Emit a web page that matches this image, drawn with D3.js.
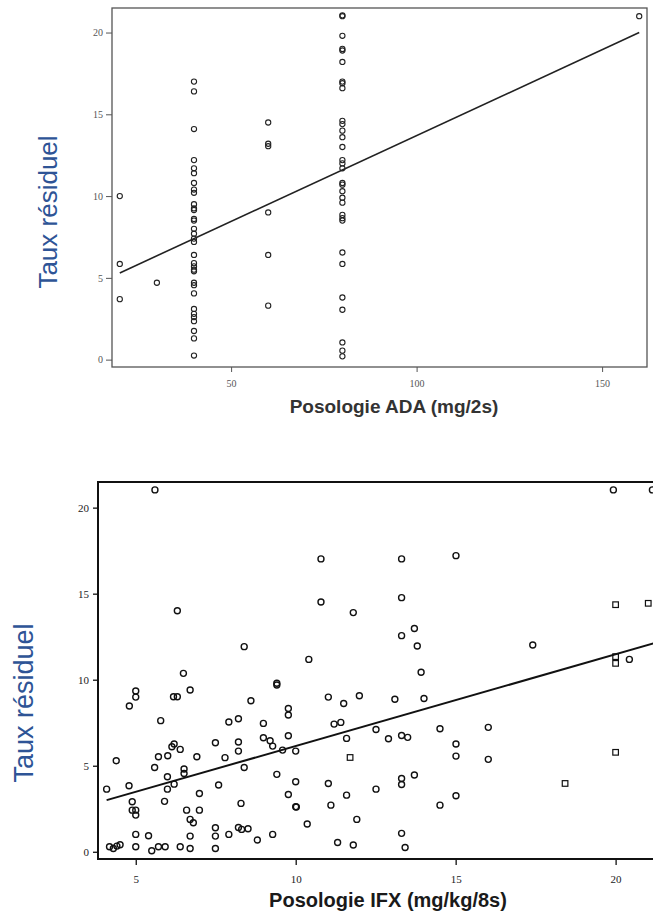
<!DOCTYPE html>
<html>
<head>
<meta charset="utf-8">
<script src="https://cdn.jsdelivr.net/npm/d3@7"></script>
<style>
  body { margin: 0; background: #fff; }
  .tick text { font-family: "Liberation Serif", "DejaVu Serif", serif; }
</style>
</head>
<body>
<svg id="chart" width="653" height="912"></svg>
<script>
// ---- data: ADA (top panel) ----
const adaDoses = [20, 30, 40, 60, 80, 160];
const adaRates = [
  [10.0, 5.85, 3.7],
  [4.7],
  [17.0, 16.4, 14.1, 12.2, 11.7, 11.4, 10.8, 10.4, 10.2, 9.5, 9.25, 9.15, 8.6, 8.5, 8.0, 7.7, 7.4, 7.2,
   6.4, 5.9, 5.7, 5.5, 5.4, 4.7, 4.55, 4.05, 3.1, 2.8, 2.6, 2.35, 1.75, 1.3, 0.25],
  [14.5, 13.2, 13.05, 9.0, 6.4, 3.3],
  [21.05, 21.0, 19.8, 19.0, 18.9, 18.2, 17.0, 16.9, 16.6, 14.6, 14.4, 14.0, 13.6, 13.0, 12.2, 12.0, 11.7,
   10.8, 10.7, 10.3, 9.9, 9.6, 8.85, 8.65, 8.5, 6.55, 5.85, 3.8, 3.05, 1.05, 0.55, 0.2],
  [21.0]
];
const adaFitX = [20, 160];
const adaFitY = [5.3, 20.0];
const adaXTicks = [50, 100, 150];
const adaYTicks = [0, 5, 10, 15, 20];

// ---- data: IFX (bottom panel) ----
const ifxCircles = [
  [5.60,21.03],[6.30,14.01],[8.39,11.92],[9.41,9.79],[9.41,9.69],[6.49,10.37],[6.70,9.40],[5.0,9.34],[5.0,8.99],
  [4.80,8.47],[6.18,9.01],[6.30,9.01],[8.60,8.78],[5.78,7.62],[7.91,7.54],[8.21,7.73],[8.99,7.46],[9.77,8.33],
  [9.77,7.95],[9.77,6.74],[6.13,6.10],[6.20,6.26],[6.39,5.95],[7.49,6.34],[8.21,6.38],[8.21,5.85],[8.99,6.63],
  [9.20,6.45],[9.28,6.14],[9.59,5.91],[5.71,5.52],[6.0,5.58],[6.91,5.52],[7.79,5.47],[4.39,5.29],[5.59,4.90],
  [6.51,4.81],[6.51,4.55],[8.39,4.90],[9.41,4.50],[5.99,4.36],[5.99,3.64],[6.20,3.93],[4.79,3.84],[4.09,3.64],
  [7.59,3.88],[6.99,3.39],[9.77,3.33],[4.89,2.91],[5.90,2.93],[4.89,2.42],[5.0,2.42],[5.0,2.13],[6.59,2.42],
  [6.99,2.42],[6.70,1.88],[6.80,1.69],[8.29,2.81],[5.0,1.01],[5.40,0.93],[6.70,0.91],[7.49,1.40],[7.49,0.91],
  [7.91,1.01],[8.21,1.41],[8.31,1.30],[8.51,1.34],[8.80,0.68],[9.28,1.01],[4.18,0.29],[4.30,0.19],[4.41,0.33],
  [4.51,0.41],[5.0,0.29],[5.50,0.06],[5.71,0.29],[5.92,0.29],[6.39,0.29],[6.70,0.19],[7.49,0.19],
  [10.79,17.02],[10.79,14.52],[11.80,13.90],[13.31,17.02],[13.31,14.77],[13.31,12.56],[13.71,12.98],[13.80,11.96],
  [15.01,17.21],[10.41,11.18],[13.92,10.43],[10.0,5.85],[11.02,8.99],[11.50,8.62],[11.99,9.07],[13.10,8.86],
  [14.01,8.91],[11.20,7.42],[11.41,7.52],[11.59,6.59],[12.51,7.11],[12.90,6.57],[13.31,6.76],[13.50,6.65],
  [14.51,7.15],[15.01,6.26],[15.01,5.56],[10.0,4.07],[10.0,2.62],[10.02,2.60],[11.02,3.97],[11.10,2.71],
  [11.59,3.29],[12.51,3.64],[13.31,4.26],[13.31,3.91],[13.71,4.46],[14.51,2.71],[15.01,3.26],[10.36,1.61],
  [11.91,1.88],[11.31,0.54],[11.80,0.39],[13.31,1.07],[13.42,0.25],
  [19.93,21.03],[21.15,21.03],[17.41,12.02],[20.43,11.18],[16.02,7.23],[16.02,5.37]
];
const ifxSquares = [[20.0,14.36],[21.02,14.44],[20.0,11.34],[20.0,10.95],[20.0,5.78],[18.42,3.97],[11.70,5.48]];
const ifxFitX = [4.09, 21.3];
const ifxFitY = [3.0, 12.17];
const ifxXTicks = [5, 10, 15, 20];
const ifxYTicks = [0, 5, 10, 15, 20];

(function() {
const svg = d3.select('#chart');
const blue = '#2e5496';

// ================= top panel =================
const x1 = d3.scaleLinear().domain([17.9, 162.1]).range([112, 647]);
const y1 = d3.scaleLinear().domain([-0.45, 21.5]).range([367, 8]);

const panel1 = svg.append('g');
panel1.append('rect')
  .attr('x', x1.range()[0]).attr('y', y1.range()[1])
  .attr('width', x1.range()[1] - x1.range()[0])
  .attr('height', y1.range()[0] - y1.range()[1])
  .attr('fill', 'none').attr('stroke', '#555').attr('stroke-width', 1.3);

const ax1 = panel1.append('g')
  .attr('transform', `translate(0,${y1.range()[0]})`)
  .call(d3.axisBottom(x1).tickValues(adaXTicks).tickSize(5).tickPadding(8));
const ay1 = panel1.append('g')
  .attr('transform', `translate(${x1.range()[0]},0)`)
  .call(d3.axisLeft(y1).tickValues(adaYTicks).tickSize(6).tickPadding(3));
[ax1, ay1].forEach(a => {
  a.select('.domain').remove();
  a.selectAll('line').attr('stroke', '#555');
  a.selectAll('text').attr('fill', '#555').attr('font-size', 10);
});

// points
const adaPts = [];
adaDoses.forEach((d, i) => adaRates[i].forEach(r => adaPts.push([d, r])));
panel1.selectAll('circle.ada')
  .data(adaPts).enter().append('circle')
  .attr('class', 'ada')
  .attr('cx', d => x1(d[0])).attr('cy', d => y1(d[1]))
  .attr('r', 2.6)
  .attr('fill', 'none').attr('stroke', '#222').attr('stroke-width', 1.1);

panel1.append('path')
  .datum(adaFitX.map((v, i) => [v, adaFitY[i]]))
  .attr('d', d3.line().x(d => x1(d[0])).y(d => y1(d[1])))
  .attr('fill', 'none').attr('stroke', '#222').attr('stroke-width', 1.6);

panel1.append('text')
  .attr('x', 394).attr('y', 413)
  .attr('text-anchor', 'middle')
  .attr('font-family', 'Liberation Sans, Arial, sans-serif')
  .attr('font-weight', 'bold').attr('font-size', 19)
  .attr('fill', '#333')
  .text('Posologie ADA (mg/2s)');

panel1.append('text')
  .attr('transform', 'translate(57,212) rotate(-90)')
  .attr('text-anchor', 'middle')
  .attr('font-family', 'Liberation Sans, Arial, sans-serif')
  .attr('font-size', 26)
  .attr('fill', blue)
  .text('Taux résiduel');

// ================= bottom panel =================
const x2 = d3.scaleLinear().domain([3.82, 21.2]).range([98, 654]);
const y2 = d3.scaleLinear().domain([-0.42, 21.49]).range([859, 482]);

const panel2 = svg.append('g');
panel2.append('rect')
  .attr('x', x2.range()[0]).attr('y', y2.range()[1])
  .attr('width', 600)
  .attr('height', y2.range()[0] - y2.range()[1])
  .attr('fill', 'none').attr('stroke', '#111').attr('stroke-width', 2);

const ax2 = panel2.append('g')
  .attr('transform', `translate(0,${y2.range()[0]})`)
  .call(d3.axisBottom(x2).tickValues(ifxXTicks).tickSize(6).tickPadding(10));
const ay2 = panel2.append('g')
  .attr('transform', `translate(${x2.range()[0]},0)`)
  .call(d3.axisLeft(y2).tickValues(ifxYTicks).tickSize(5).tickPadding(4));
[ax2, ay2].forEach(a => {
  a.select('.domain').remove();
  a.selectAll('line').attr('stroke', '#111').attr('stroke-width', 1.3);
  a.selectAll('text').attr('fill', '#222').attr('font-size', 11);
});

panel2.selectAll('circle.ifx')
  .data(ifxCircles).enter().append('circle')
  .attr('class', 'ifx')
  .attr('cx', d => x2(d[0])).attr('cy', d => y2(d[1]))
  .attr('r', 3)
  .attr('fill', 'none').attr('stroke', '#111').attr('stroke-width', 1.4);

panel2.selectAll('rect.ifxsq')
  .data(ifxSquares).enter().append('rect')
  .attr('class', 'ifxsq')
  .attr('x', d => x2(d[0]) - 2.8).attr('y', d => y2(d[1]) - 2.8)
  .attr('width', 5.6).attr('height', 5.6)
  .attr('fill', 'none').attr('stroke', '#111').attr('stroke-width', 1.2);

panel2.append('path')
  .datum(ifxFitX.map((v, i) => [v, ifxFitY[i]]))
  .attr('d', d3.line().x(d => x2(d[0])).y(d => y2(d[1])))
  .attr('fill', 'none').attr('stroke', '#111').attr('stroke-width', 2);

panel2.append('text')
  .attr('x', 388).attr('y', 907)
  .attr('text-anchor', 'middle')
  .attr('font-family', 'Liberation Sans, Arial, sans-serif')
  .attr('font-weight', 'bold').attr('font-size', 20)
  .attr('fill', '#1a1a1a')
  .text('Posologie IFX (mg/kg/8s)');

panel2.append('text')
  .attr('transform', 'translate(33,703) rotate(-90)')
  .attr('text-anchor', 'middle')
  .attr('font-family', 'Liberation Sans, Arial, sans-serif')
  .attr('font-size', 27)
  .attr('fill', blue)
  .text('Taux résiduel');
})();
</script>
</body>
</html>
